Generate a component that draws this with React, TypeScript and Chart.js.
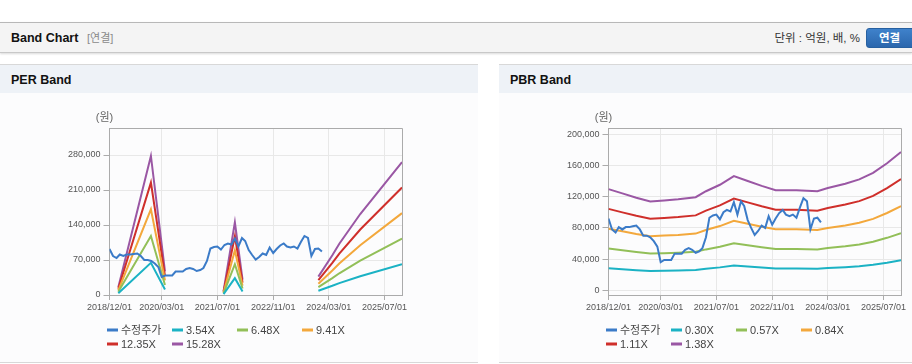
import React, { useEffect, useRef } from 'react';
import { Chart, registerables } from 'chart.js';

Chart.register(...registerables);

// ---------- shared axis data ----------
const xRange = ['2018/12/01', '2025/12/01'];
const xTickLabels = ['2018/12/01', '2020/03/01', '2021/07/01', '2022/11/01', '2024/03/01', '2025/07/01'];

// ---------- adjusted price (수정주가) ----------
const priceDates = [
  '2018/12/01', '2019/01/01', '2019/02/01', '2019/03/01', '2019/04/01', '2019/05/01', '2019/06/01', '2019/07/01',
  '2019/08/01', '2019/09/01', '2019/10/01', '2019/11/01', '2019/12/01', '2020/01/01', '2020/02/01', '2020/03/01',
  '2020/04/01', '2020/05/01', '2020/06/01', '2020/07/01', '2020/08/01', '2020/09/01', '2020/10/01', '2020/11/01',
  '2020/12/01', '2021/01/01', '2021/02/01', '2021/03/01', '2021/04/01', '2021/05/01', '2021/06/01', '2021/07/01',
  '2021/08/01', '2021/09/01', '2021/10/01', '2021/11/01', '2021/12/01', '2022/01/01', '2022/02/01', '2022/03/01',
  '2022/04/01', '2022/05/01', '2022/06/01', '2022/07/01', '2022/08/01', '2022/09/01', '2022/10/01', '2022/11/01',
  '2022/12/01', '2023/01/01', '2023/02/01', '2023/03/01', '2023/04/01', '2023/05/01', '2023/06/01', '2023/07/01',
  '2023/08/01', '2023/09/01', '2023/10/01', '2023/11/01', '2023/12/01', '2024/01/01',
];
const priceValues = [
  92000, 78000, 74000, 81000, 78000, 81000, 81000, 82000,
  83000, 78000, 70000, 70000, 68000, 63000, 56000, 36000,
  39000, 39000, 39000, 47000, 47000, 47000, 52000, 54000,
  52000, 48000, 50000, 54000, 68000, 93000, 96000, 97000,
  91000, 100000, 103000, 101000, 113000, 97000, 114000, 108000,
  90000, 80000, 71000, 76000, 83000, 80000, 95000, 84000,
  92000, 99000, 103000, 97000, 95000, 97000, 93000, 106000,
  118000, 114000, 78000, 92000, 93000, 87000,
];

// ---------- PER band ----------
const perLabels = ['3.54X', '6.48X', '9.41X', '12.35X', '15.28X'];
const perBandDates = [
  '2019/02/16', '2019/11/28', '2020/03/30', '2020/10/01',
  '2021/08/24', '2021/12/01', '2022/02/06', '2023/01/01',
  '2023/12/01', '2024/04/01', '2024/06/01', '2024/12/01', '2025/12/01',
];
const per354 = [3500, 64400, 11000, null, 1800, 33600, 7100, null, 8500, 18400, 23700, 37500, 61600];
const per648 = [6500, 117900, 20100, null, 3200, 61600, 13000, null, 15600, 33700, 43400, 68700, 112800];
const per941 = [9400, 171300, 29200, null, 4700, 89400, 18800, null, 22600, 48900, 63000, 99700, 163700];
const per1235 = [12400, 224800, 38300, null, 6200, 117300, 24700, null, 29600, 64200, 82700, 130900, 214900];
const per1528 = [15300, 278100, 47400, null, 7600, 145200, 30600, null, 36700, 79500, 102400, 162000, 265900];
const perYTicks = [0, 70000, 140000, 210000, 280000];
const perYMin = 0;
const perYMax = 334000;

// ---------- PBR band ----------
const pbrLabels = ['0.30X', '0.57X', '0.84X', '1.11X', '1.38X'];
const pbrBandDates = [
  '2018/12/01', '2019/04/01', '2019/08/01', '2019/12/01', '2020/04/01', '2020/08/01', '2021/01/01',
  '2021/04/01', '2021/08/01', '2021/12/01', '2022/04/01', '2022/08/01', '2022/12/01', '2023/06/01',
  '2023/12/01', '2024/03/01', '2024/08/01', '2024/12/01', '2025/04/01', '2025/08/01', '2025/12/01',
];
const pbr030 = [28200, 27000, 25800, 24750, 25050, 25350, 25950, 27600, 29400, 31800, 30450, 29100, 27900, 27900, 27600, 28500, 29700, 30900, 32700, 35400, 38550];
const pbr057 = [53580, 51300, 49020, 47030, 47600, 48170, 49300, 52440, 55860, 60420, 57860, 55290, 53010, 53010, 52440, 54150, 56430, 58710, 62130, 67260, 73250];
const pbr084 = [78960, 75600, 72240, 69300, 70140, 70980, 72660, 77280, 82320, 89040, 85260, 81480, 78120, 78120, 77280, 79800, 83160, 86520, 91560, 99120, 107940];
const pbr111 = [104340, 99900, 95460, 91580, 92690, 93800, 96020, 102120, 108780, 117660, 112670, 107670, 103230, 103230, 102120, 105450, 109890, 114330, 120990, 130980, 142640];
const pbr138 = [129720, 124200, 118680, 113850, 115230, 116610, 119370, 126960, 135240, 146280, 140070, 133860, 128340, 128340, 126960, 131100, 136620, 142140, 150420, 162840, 177330];
const pbrYTicks = [0, 40000, 80000, 120000, 160000, 200000];
const pbrYMin = -6000;
const pbrYMax = 208000;

// ---------- styles ----------
const priceLabel = '수정주가';
const unitLabel = '(원)';
const colors = ['#3b7bc8', '#1bb2c4', '#92bf58', '#f3a83c', '#cf2f2b', '#9a57a4'];
const FONT = "'Liberation Sans', 'Noto Sans CJK KR', Arial, sans-serif";

const dayNum = (s: string) => {
  const [y, m, d] = s.split('/').map(Number);
  const [y0, m0, d0] = xRange[0].split('/').map(Number);
  return (Date.UTC(y, m - 1, d) - Date.UTC(y0, m0 - 1, d0)) / 86400000;
};

const decorPlugin = {
  id: 'decor',
  afterDraw(chart: any, _args: any, opts: any) {
    const { ctx, chartArea: a } = chart;
    ctx.save();
    // top/right frame
    ctx.strokeStyle = '#ababab';
    ctx.lineWidth = 1;
    const l = Math.round(a.left - 0.5) + 0.5;
    const r = Math.round(a.right - 0.5) + 0.5;
    const t = Math.round(a.top - 0.5) + 0.5;
    const b = Math.round(a.bottom - 0.5) + 0.5;
    ctx.beginPath();
    ctx.moveTo(l, t);
    ctx.lineTo(r, t);
    ctx.lineTo(r, b);
    ctx.stroke();
    // unit label
    ctx.fillStyle = '#666';
    ctx.font = `11px ${FONT}`;
    ctx.textAlign = 'center';
    ctx.textBaseline = 'middle';
    ctx.fillText(opts.unit, a.left - 5, a.top - 10);
    // legend grid
    const items = opts.items as { label: string; color: string }[];
    ctx.textAlign = 'left';
    ctx.font = `11px ${FONT}`;
    items.forEach((it, i) => {
      const col = i % 4;
      const row = Math.floor(i / 4);
      const x = a.left - 2.5 + col * 65;
      const y = a.bottom + 35 + row * 14;
      ctx.fillStyle = it.color;
      ctx.fillRect(x, y - 1.5, 11, 3);
      ctx.fillStyle = '#444';
      ctx.fillText(it.label, x + 14, y + 0.5);
    });
    ctx.restore();
  },
};

function makeConfig(
  datasets: any[],
  yMin: number,
  yMax: number,
  yTicks: number[],
  legendItems: { label: string; color: string }[],
) {
  const tickFont = { family: FONT, size: 9 };
  return {
    type: 'line' as const,
    data: { datasets },
    plugins: [decorPlugin],
    options: {
      responsive: false,
      animation: false as const,
      events: [],
      layout: { padding: { left: 0, right: 76, top: 35, bottom: 47 } },
      elements: { point: { radius: 0 }, line: { borderWidth: 2, tension: 0 } },
      plugins: {
        legend: { display: false },
        tooltip: { enabled: false },
        decor: { unit: unitLabel, items: legendItems },
      },
      scales: {
        x: {
          type: 'linear' as const,
          min: 0,
          max: dayNum(xRange[1]),
          afterBuildTicks: (s: any) => {
            s.ticks = xTickLabels.map((l) => ({ value: dayNum(l) }));
          },
          afterFit: (s: any) => {
            s.height = 20;
          },
          ticks: {
            autoSkip: false,
            maxRotation: 0,
            padding: 2,
            color: '#555',
            font: tickFont,
            callback: (v: number) => xTickLabels.find((l) => dayNum(l) === v) ?? '',
          },
          grid: { color: '#e8e8e8', tickColor: '#ababab', tickLength: 5 },
          border: { color: '#ababab' },
        },
        y: {
          min: yMin,
          max: yMax,
          afterBuildTicks: (s: any) => {
            s.ticks = yTicks.map((v) => ({ value: v }));
          },
          afterFit: (s: any) => {
            s.width = 109.5;
          },
          ticks: {
            padding: 3,
            color: '#555',
            font: tickFont,
            callback: (v: number) => v.toLocaleString('en-US'),
          },
          grid: { color: '#e8e8e8', tickColor: '#ababab', tickLength: 6 },
          border: { color: '#ababab' },
        },
      },
    },
  };
}

const toPoints = (dates: string[], vals: (number | null)[]) =>
  dates.map((d, i) => ({ x: dayNum(d), y: vals[i] }));

function BandChart({ kind }: { kind: 'per' | 'pbr' }) {
  const ref = useRef<HTMLCanvasElement>(null);
  useEffect(() => {
    const bandLabels = kind === 'per' ? perLabels : pbrLabels;
    const bandDates = kind === 'per' ? perBandDates : pbrBandDates;
    const bandVals = kind === 'per'
      ? [per354, per648, per941, per1235, per1528]
      : [pbr030, pbr057, pbr084, pbr111, pbr138];
    const datasets = [
      {
        label: priceLabel,
        data: toPoints(priceDates, priceValues),
        borderColor: colors[0],
        backgroundColor: colors[0],
      },
      ...bandVals.map((vals, i) => ({
        label: bandLabels[i],
        data: toPoints(bandDates, vals),
        borderColor: colors[i + 1],
        backgroundColor: colors[i + 1],
        spanGaps: false,
      })),
    ];
    const legendItems = [priceLabel, ...bandLabels].map((label, i) => ({ label, color: colors[i] }));
    const cfg = kind === 'per'
      ? makeConfig(datasets, perYMin, perYMax, perYTicks, legendItems)
      : makeConfig(datasets, pbrYMin, pbrYMax, pbrYTicks, legendItems);
    const chart = new Chart(ref.current as HTMLCanvasElement, cfg as any);
    return () => chart.destroy();
  }, [kind]);
  return <canvas ref={ref} width={478} height={269} style={{ display: 'block', width: 478, height: 269 }} />;
}

function Panel({ left, title, kind }: { left: number; title: string; kind: 'per' | 'pbr' }) {
  return (
    <div
      style={{
        position: 'absolute',
        left,
        top: 64,
        width: 478,
        height: 297,
        borderTop: '1px solid #d8d8d8',
        borderBottom: '1px solid #d8d8d8',
        background: '#fcfcfd',
        overflow: 'hidden',
      }}
    >
      <div
        style={{
          height: 28,
          background: '#eef2f7',
          fontWeight: 'bold',
          fontSize: 12.5,
          color: '#111',
          lineHeight: '31px',
          paddingLeft: 11,
        }}
      >
        {title}
      </div>
      <BandChart kind={kind} />
    </div>
  );
}

export default function App() {
  return (
    <div
      style={{
        position: 'fixed',
        left: 0,
        top: 0,
        width: 912,
        height: 364,
        overflow: 'hidden',
        background: '#fff',
        fontFamily: FONT,
      }}
    >
      <div
        style={{
          position: 'absolute',
          left: 0,
          top: 22,
          width: 912,
          height: 29,
          background: '#f4f4f4',
          borderTop: '1px solid #b8b8b8',
          borderBottom: '1px solid #c8c8c8',
          boxShadow: '0 1px 2px rgba(0,0,0,0.15)',
        }}
      >
        <span style={{ position: 'absolute', left: 11, top: 0, lineHeight: '30px', fontSize: 12.5, fontWeight: 'bold', color: '#111' }}>
          Band Chart
        </span>
        <span style={{ position: 'absolute', left: 87, top: 0, lineHeight: '30px', fontSize: 11, color: '#8a8a8a' }}>
          [연결]
        </span>
        <span style={{ position: 'absolute', right: 52, top: 0, lineHeight: '30px', fontSize: 11.5, color: '#333' }}>
          단위 : 억원, 배, %
        </span>
        <div
          style={{
            position: 'absolute',
            left: 866,
            top: 5,
            width: 50,
            height: 20,
            borderRadius: 3,
            background: 'linear-gradient(#3f82cb, #2b67ad)',
            border: '1px solid #2760a0',
            boxSizing: 'border-box',
            color: '#fff',
            fontWeight: 'bold',
            fontSize: 11.5,
            lineHeight: '18px',
            paddingLeft: 12,
          }}
        >
          연결
        </div>
      </div>
      <Panel left={0} title="PER Band" kind="per" />
      <Panel left={499} title="PBR Band" kind="pbr" />
    </div>
  );
}
